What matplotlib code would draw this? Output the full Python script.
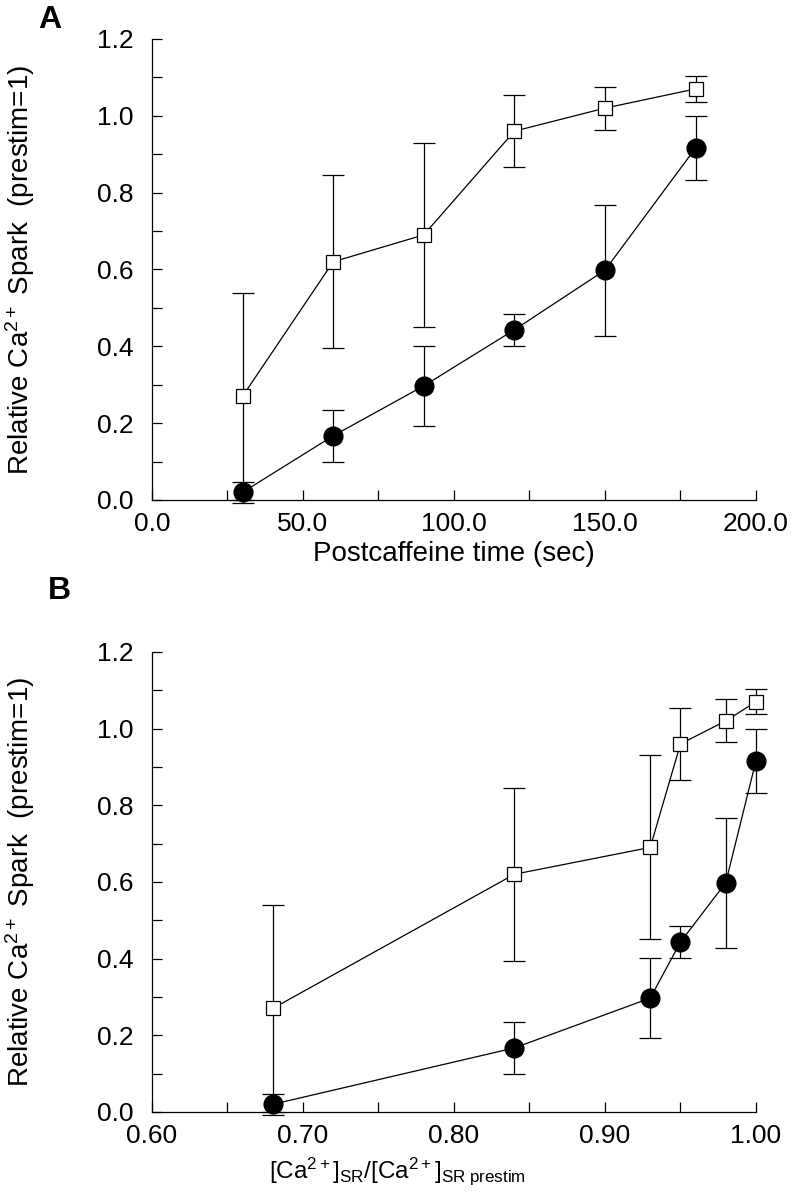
import matplotlib.pyplot as plt
from matplotlib.ticker import MultipleLocator, FormatStrFormatter

plt.rcParams['font.family'] = ['Liberation Sans', 'DejaVu Sans']
plt.rcParams['mathtext.fontset'] = 'custom'
plt.rcParams['mathtext.rm'] = 'Liberation Sans'
plt.rcParams['mathtext.it'] = 'Liberation Sans:italic'

# data
time_sec = [30, 60, 90, 120, 150, 180]
ca_ratio = [0.68, 0.84, 0.93, 0.95, 0.98, 1.00]
open_vals = [0.27, 0.62, 0.69, 0.96, 1.02, 1.07]
open_err = [0.27, 0.225, 0.24, 0.093, 0.056, 0.033]
filled_vals = [0.02, 0.167, 0.297, 0.443, 0.598, 0.916]
filled_err = [0.027, 0.067, 0.105, 0.041, 0.17, 0.083]

ylabel = 'Relative Ca$^{2+}$ Spark  (prestim=1)'


def draw_panel(ax, x, xlim, major, minor, fmt, xlabel, xlabel_size):
    # open squares first, filled circles on top
    ax.errorbar(x, open_vals, yerr=open_err, color='black', lw=0.9, elinewidth=0.9,
                capsize=8, capthick=0.9, marker='s', ms=10.5, mfc='white', mec='black',
                mew=0.9, clip_on=False, zorder=3)
    ax.errorbar(x, filled_vals, yerr=filled_err, color='black', lw=0.9, elinewidth=0.9,
                capsize=8, capthick=0.9, marker='o', ms=13.5, mfc='black', mec='black',
                clip_on=False, zorder=4)

    ax.set_xlim(*xlim)
    ax.set_ylim(0, 1.2)
    ax.xaxis.set_major_locator(MultipleLocator(major))
    ax.xaxis.set_minor_locator(MultipleLocator(minor))
    ax.xaxis.set_major_formatter(FormatStrFormatter(fmt))
    ax.yaxis.set_major_locator(MultipleLocator(0.2))
    ax.yaxis.set_minor_locator(MultipleLocator(0.1))
    ax.yaxis.set_major_formatter(FormatStrFormatter('%.1f'))

    for side in ['top', 'right']:
        ax.spines[side].set_visible(False)
    for side in ['left', 'bottom']:
        ax.spines[side].set_linewidth(0.9)

    ax.tick_params(which='both', direction='in', length=7, width=0.9, labelsize=19)
    ax.tick_params(axis='y', which='both', pad=13)
    ax.tick_params(axis='x', which='both', pad=9)

    ax.set_ylabel(ylabel, fontsize=20)
    ax.set_xlabel(xlabel, fontsize=xlabel_size)


fig = plt.figure(figsize=(7.97, 11.99), dpi=100)
ax_a = fig.add_axes([0.1907, 0.5830, 0.7578, 0.3845])
ax_b = fig.add_axes([0.1907, 0.0726, 0.7578, 0.3837])

draw_panel(ax_a, time_sec, (0, 200), 50, 25, '%.1f', 'Postcaffeine time (sec)', 20)
draw_panel(ax_b, ca_ratio, (0.6, 1.0), 0.1, 0.05, '%.2f',
           r'$[\mathrm{Ca}^{2+}]_{\mathrm{SR}}/[\mathrm{Ca}^{2+}]_{\mathrm{SR\ prestim}}$', 17.5)

ax_a.yaxis.set_label_coords(-0.19, 0.5)
ax_b.yaxis.set_label_coords(-0.19, 0.5)
ax_a.xaxis.set_label_coords(0.5, -0.088)
ax_b.xaxis.set_label_coords(0.407, -0.095)

fig.text(0.063, 0.983, 'A', fontsize=23, fontweight='bold', ha='center', va='center')
fig.text(0.075, 0.507, 'B', fontsize=23, fontweight='bold', ha='center', va='center')

fig.savefig('out.png', dpi=100)
